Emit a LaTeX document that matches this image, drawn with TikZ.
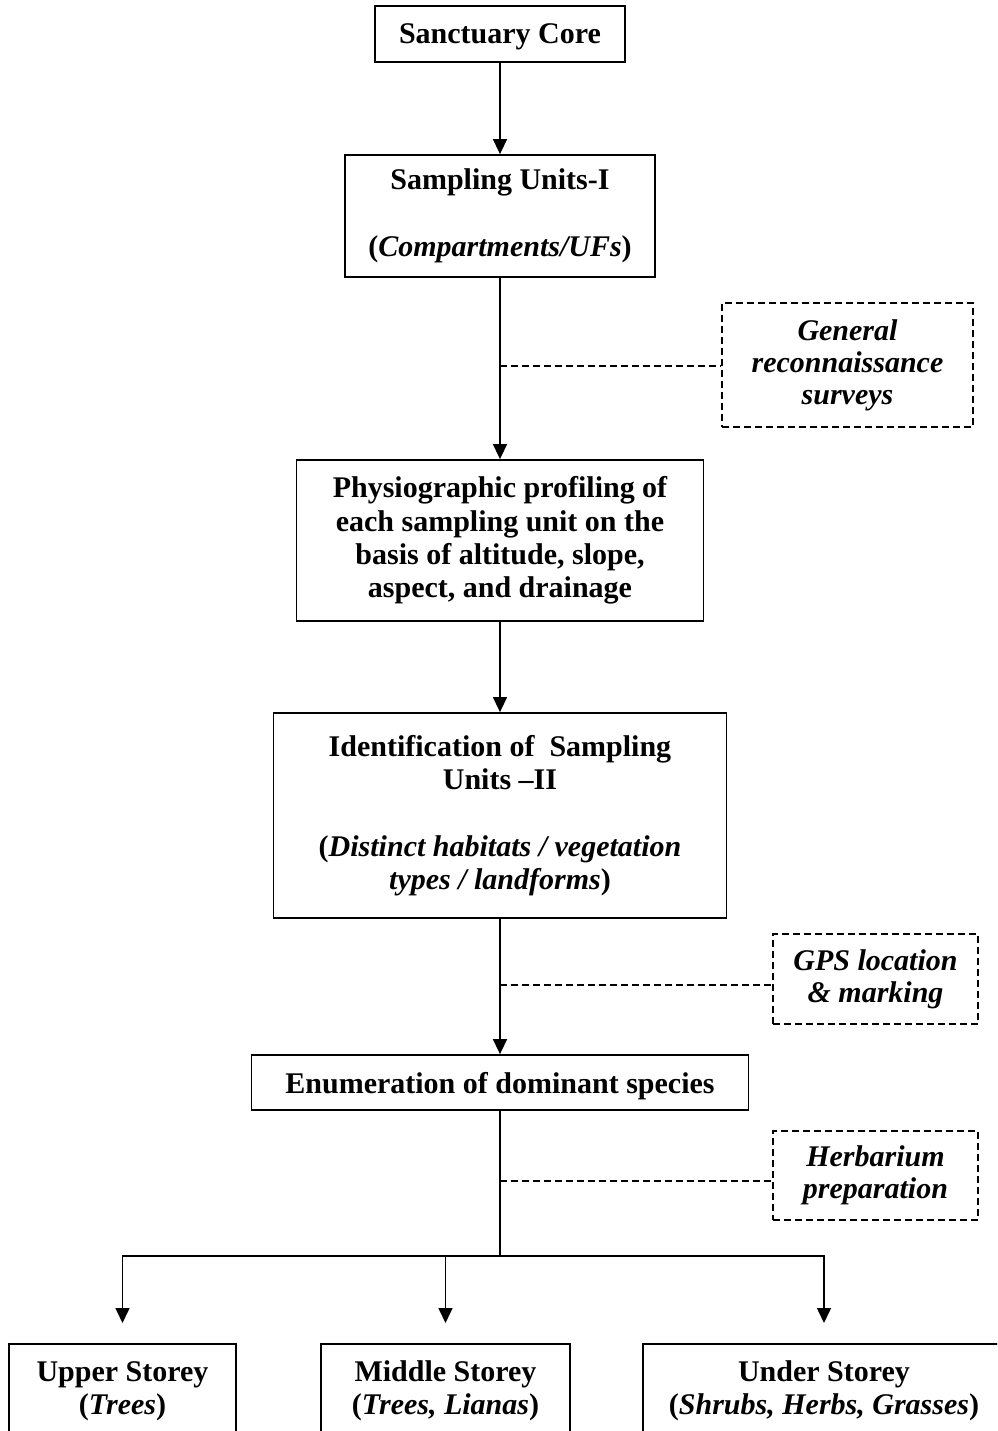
\documentclass[tikz,border=0pt]{standalone}
\usepackage{fontspec}
\setmainfont{Liberation Serif}
\usetikzlibrary{arrows.meta}
\begin{document}
\begin{tikzpicture}[x=0.5pt,y=-0.5pt,
  every node/.style={font=\fontsize{15pt}{16.67pt}\selectfont\bfseries, align=center},
  mainbox/.style={draw, line width=0.9pt, inner sep=0pt},
  onebox/.style={mainbox, text depth=0pt},
  notebox/.style={draw, line width=0.8pt, dash pattern=on 3.5pt off 2pt, inner sep=0pt, font=\fontsize{15pt}{16pt}\selectfont\bfseries\itshape},
  storeybox/.style={draw, line width=0.9pt, anchor=north, minimum height=90pt, inner sep=0pt},
  storeytext/.style={inner sep=0pt},
  arr/.style={line width=0.75pt, -{Triangle[width=7pt,length=7.5pt]}},
  plain/.style={line width=0.75pt},
  dashline/.style={line width=0.75pt, dash pattern=on 3.5pt off 2pt}]
\useasboundingbox (0,0) rectangle (997,1431);
\clip (0,0) rectangle (997,1431);
\fill[white] (0,0) rectangle (997,1431);

% main boxes
\node[onebox, minimum width=125pt, minimum height=28pt] (core) at (500,34) {Sanctuary Core};
\node[mainbox, minimum width=155pt, minimum height=61pt] (su1) at (500,216)
  {Sampling Units-I\\[16.67pt](\textit{Compartments/UFs})};
\node[mainbox, minimum width=203.5pt, minimum height=80.5pt] (phys) at (500,540.5)
  {Physiographic profiling of\\each sampling unit on the\\basis of altitude, slope,\\aspect, and drainage};
\node[mainbox, minimum width=226.5pt, minimum height=102.5pt] (su2) at (500,815.5)
  {Identification of~ Sampling\\Units –II\\[16.67pt](\textit{Distinct habitats / vegetation}\\\textit{types / landforms})};
\node[onebox, minimum width=248.5pt, minimum height=27.5pt] (enum) at (500,1082.5)
  {Enumeration of dominant species};

% side notes
\node[notebox, minimum width=125.5pt, minimum height=62pt] (gen) at (847.5,365)
  {General\\reconnaissance\\surveys};
\node[notebox, minimum width=102.5pt, minimum height=45pt] (gps) at (875.5,979)
  {GPS location\\\& marking};
\node[notebox, minimum width=102.5pt, minimum height=44.5pt] (herb) at (875.5,1175.5)
  {Herbarium\\preparation};

% storey boxes (cut by the page bottom)
\node[storeybox, minimum width=113.5pt] (upper) at (122.5,1343) {};
\node[storeybox, minimum width=124.5pt] (middle) at (445.5,1343) {};
\node[storeybox, minimum width=181pt] (under) at (824,1343) {};
\node[storeytext] (uppert) at (122.5,1391) {Upper Storey\\(\textit{Trees})};
\node[storeytext] (middlet) at (445.5,1391) {Middle Storey\\(\textit{Trees, Lianas})};
\node[storeytext] (undert) at (824,1391) {Under Storey\\(\textit{Shrubs, Herbs, Grasses})};

% connectors
\draw[arr] (core) -- (su1);
\draw[arr] (su1) -- (phys);
\draw[arr] (phys) -- (su2);
\draw[arr] (su2) -- (enum);

\coordinate (c1) at (500,366);
\draw[dashline] (c1) -- (c1 -| gen.west);
\coordinate (c2) at (500,985);
\draw[dashline] (c2) -- (c2 -| gps.west);
\coordinate (c3) at (500,1181);
\draw[dashline] (c3) -- (c3 -| herb.west);

\coordinate (br) at (500,1256);
\draw[plain] (enum) -- (br);
\draw[arr, shorten >=10pt] (br) -| (upper.north);
\draw[arr, shorten >=10pt] (br) -| (middle.north);
\draw[arr, shorten >=10pt] (br) -| (under.north);
\end{tikzpicture}
\end{document}
